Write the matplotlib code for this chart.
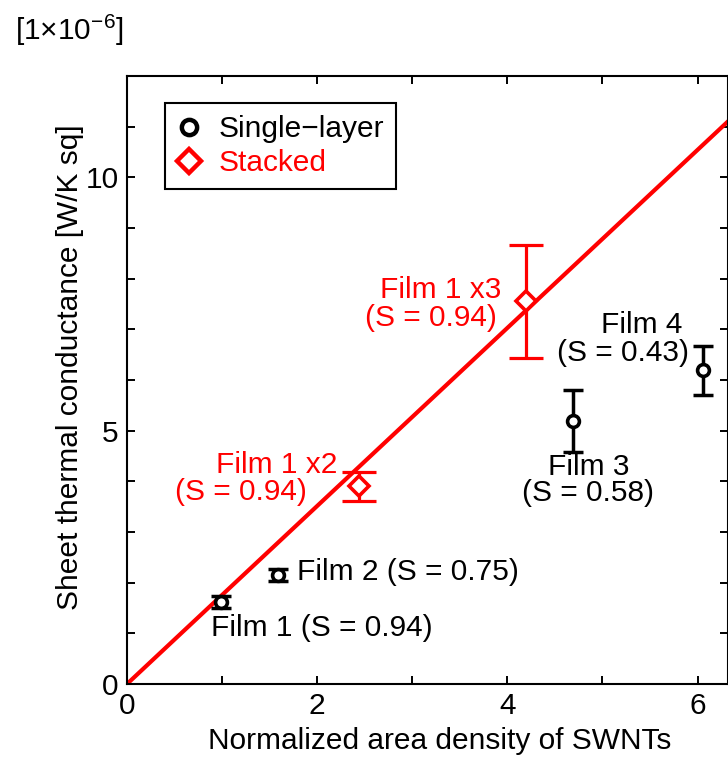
import numpy as np
import matplotlib
matplotlib.use("Agg")
import matplotlib.pyplot as plt
from matplotlib.ticker import MultipleLocator
from matplotlib.lines import Line2D

plt.rcParams['font.family'] = ['Liberation Sans', 'DejaVu Sans']
plt.rcParams['mathtext.fontset'] = 'custom'
plt.rcParams['mathtext.rm'] = 'Liberation Sans'
plt.rcParams['mathtext.it'] = 'Liberation Sans'

# ---- data ----
single_names = ["Film 1", "Film 2", "Film 3", "Film 4"]
single_x = [0.985, 1.59, 4.69, 6.06]
single_y = [1.62, 2.15, 5.19, 6.19]
single_err = [0.12, 0.12, 0.61, 0.48]

stacked_names = ["Film 1 x2", "Film 1 x3"]
stacked_x = [2.44, 4.20]
stacked_y = [3.90, 7.55]
stacked_err = [0.29, 1.11]

fit_slope = 1.757
fit_x = [0.0, 7.0]

xlim = (0, 6.32)
ylim = (0, 12)
xticks = [0, 2, 4, 6]
yticks = [0, 5, 10]

RED = '#ff0000'
FS = 21.5

W, H = 728, 762
fig = plt.figure(figsize=(W / 100, H / 100), dpi=100)
L, R, T, B = 127, 728, 76, 684
ax = fig.add_axes([L / W, 1 - B / H, (R - L) / W, (B - T) / H])

# fit line
ax.plot(fit_x, [fit_slope * v for v in fit_x], color=RED, lw=3.0, zorder=2)

# single-layer
ax.errorbar(single_x, single_y, yerr=single_err, fmt='none', ecolor='black',
            elinewidth=2.5, capsize=7.5, capthick=2.5, zorder=3)
ax.plot(single_x, single_y, 'o', ms=8.5, mfc='white', mec='black', mew=2.6,
        ls='none', zorder=4)

# stacked
ax.errorbar(stacked_x, stacked_y, yerr=stacked_err, fmt='none', ecolor=RED,
            elinewidth=2.3, capsize=12.5, capthick=2.3, zorder=3)
ax.plot(stacked_x, stacked_y, 'D', ms=10, mfc='white', mec=RED, mew=2.6,
        ls='none', zorder=4)

ax.set_xlim(*xlim)
ax.set_ylim(*ylim)
ax.set_xticks(xticks)
ax.set_yticks(yticks)
ax.xaxis.set_minor_locator(MultipleLocator(1))
ax.yaxis.set_minor_locator(MultipleLocator(1))
ax.tick_params(which='both', direction='in', top=True, right=True,
               length=6, width=1.4, labelsize=FS, pad=6)
for s in ax.spines.values():
    s.set_linewidth(1.5)

# annotations
ax.text(0.88, 1.10, "Film 1 (S = 0.94)", fontsize=FS, ha='left', va='center')
ax.text(1.79, 2.22, "Film 2 (S = 0.75)", fontsize=FS, ha='left', va='center')
ax.text(4.86, 4.29, "Film 3", fontsize=FS, ha='center', va='center')
ax.text(4.85, 3.76, "(S = 0.58)", fontsize=FS, ha='center', va='center')
ax.text(5.41, 7.08, "Film 4", fontsize=FS, ha='center', va='center')
ax.text(5.22, 6.54, "(S = 0.43)", fontsize=FS, ha='center', va='center')
ax.text(3.94, 7.78, "Film 1 x3", fontsize=FS, ha='right', va='center', color=RED)
ax.text(3.89, 7.23, "(S = 0.94)", fontsize=FS, ha='right', va='center', color=RED)
ax.text(2.21, 4.32, "Film 1 x2", fontsize=FS, ha='right', va='center', color=RED)
ax.text(1.89, 3.79, "(S = 0.94)", fontsize=FS, ha='right', va='center', color=RED)

h1 = Line2D([], [], marker='o', ms=11, mfc='white', mec='black', mew=3.2, ls='none')
h2 = Line2D([], [], marker='D', ms=12, mfc='white', mec=RED, mew=3.2, ls='none')
leg = ax.legend([h1, h2], ['Single\u2212layer', 'Stacked'], loc='upper left',
                bbox_to_anchor=(0.064, 0.955), borderaxespad=0, fontsize=FS,
                frameon=True, fancybox=False, edgecolor='black', framealpha=1,
                handlelength=0.8, handletextpad=0.57, borderpad=0.4,
                labelspacing=0.2)
leg.get_frame().set_linewidth(1.5)
leg.get_texts()[1].set_color(RED)

fig.text(440 / W, 1 - 741 / H, "Normalized area density of SWNTs", fontsize=FS,
         ha='center', va='center')
fig.text(70 / W, 1 - 367 / H, "Sheet thermal conductance [W/K sq]", fontsize=FS,
         ha='center', va='center', rotation=90)
fig.text(15 / W, 1 - 30 / H, r"[1$\times$10$^{\mathrm{-6}}$]", fontsize=FS,
         ha='left', va='center')

fig.savefig("out.png", dpi=100)
